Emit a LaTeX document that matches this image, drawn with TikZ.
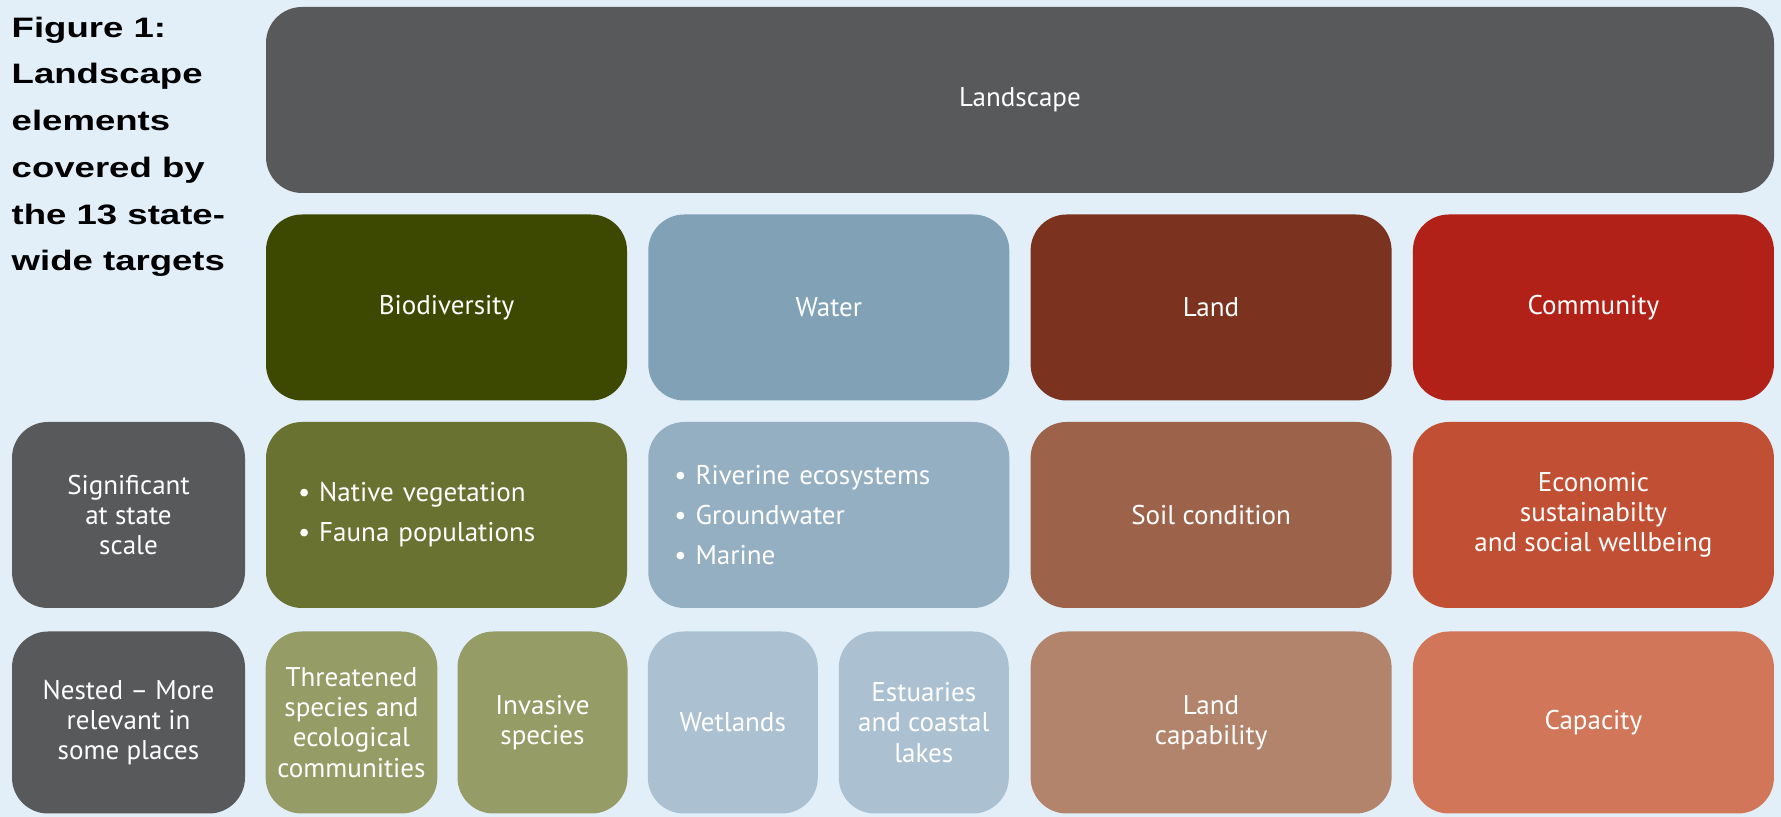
\documentclass[tikz,border=0pt]{standalone}
\usepackage{fontspec}
\newfontfamily\boxfont[Ligatures=TeX]{PT Sans}
\newfontfamily\capfont[FakeStretch=1.3]{Liberation Sans}
\definecolor{bgblue}{HTML}{E2EFF8}
\definecolor{slate}{HTML}{58595B}
\definecolor{biodark}{HTML}{3D4800}
\definecolor{biomid}{HTML}{6A7232}
\definecolor{biolight}{HTML}{969C66}
\definecolor{waterdark}{HTML}{80A1B6}
\definecolor{watermid}{HTML}{94AFC2}
\definecolor{waterlight}{HTML}{ABC1D2}
\definecolor{landdark}{HTML}{7B3320}
\definecolor{landmid}{HTML}{9C634A}
\definecolor{landlight}{HTML}{B2846C}
\definecolor{commdark}{HTML}{B22118}
\definecolor{commmid}{HTML}{C14F33}
\definecolor{commlight}{HTML}{D17659}

\begin{document}
\begin{tikzpicture}[node distance=2.075cm,
  tile/.style={rectangle, rounded corners=3.6mm, minimum width=3.61cm, minimum height=1.86cm, text=white, align=center, font=\boxfont\fontsize{7.7}{8.6}\selectfont},
  half/.style={tile, minimum width=1.7cm, minimum height=1.82cm},
  listtile/.style={tile, align=left, text width=2.97cm, inner xsep=0.32cm, font=\boxfont\fontsize{7.7}{11.4}\selectfont}]
\fill[bgblue] (0,0) rectangle (17.81,8.17);
\node (caption) [anchor=north west, inner sep=0pt, align=left, font=\capfont\bfseries\fontsize{8}{13.3}\selectfont] at (0.11,8.01) {Figure 1:\\Landscape\\elements\\covered by\\the 13 state-\\wide targets};
\node (landscape) [tile, fill=slate, minimum width=15.08cm] at (10.2,7.17) {Landscape};
\node (biodiversity) [tile, fill=biodark, below of=landscape, xshift=-5.735cm] {Biodiversity};
\node (water) [tile, fill=waterdark, right of=biodiversity, node distance=3.823cm] {Water};
\node (land) [tile, fill=landdark, right of=water, node distance=3.823cm] {Land};
\node (community) [tile, fill=commdark, right of=land, node distance=3.823cm] {Community};
\node (native) [listtile, fill=biomid, below of=biodiversity] {• Native vegetation\\• Fauna populations};
\node (riverine) [listtile, fill=watermid, text width=3.09cm, inner xsep=0.26cm, below of=water] {• Riverine ecosystems\\• Groundwater\\• Marine};
\node (soil) [tile, fill=landmid, below of=land] {Soil condition};
\node (economic) [tile, fill=commmid, below of=community] {Economic\\sustainabilty\\and social wellbeing};
\node (significant) [tile, fill=slate, minimum width=2.33cm, left of=native, node distance=3.18cm] {Significant\\at state\\scale};
\node (nested) [tile, fill=slate, minimum width=2.33cm, minimum height=1.82cm, below of=significant] {Nested – More\\relevant in\\some places};
\node (threatened) [half, fill=biolight, below of=native, xshift=-0.95cm] {Threatened\\species and\\ecological\\communities};
\node (invasive) [half, fill=biolight, below of=native, xshift=0.96cm] {Invasive\\species};
\node (wetlands) [half, fill=waterlight, below of=riverine, xshift=-0.96cm] {Wetlands};
\node (estuaries) [half, fill=waterlight, below of=riverine, xshift=0.95cm] {Estuaries\\and coastal\\lakes};
\node (capability) [tile, fill=landlight, minimum height=1.82cm, below of=soil] {Land\\capability};
\node (capacity) [tile, fill=commlight, minimum height=1.82cm, below of=economic] {Capacity};
\end{tikzpicture}
\end{document}
